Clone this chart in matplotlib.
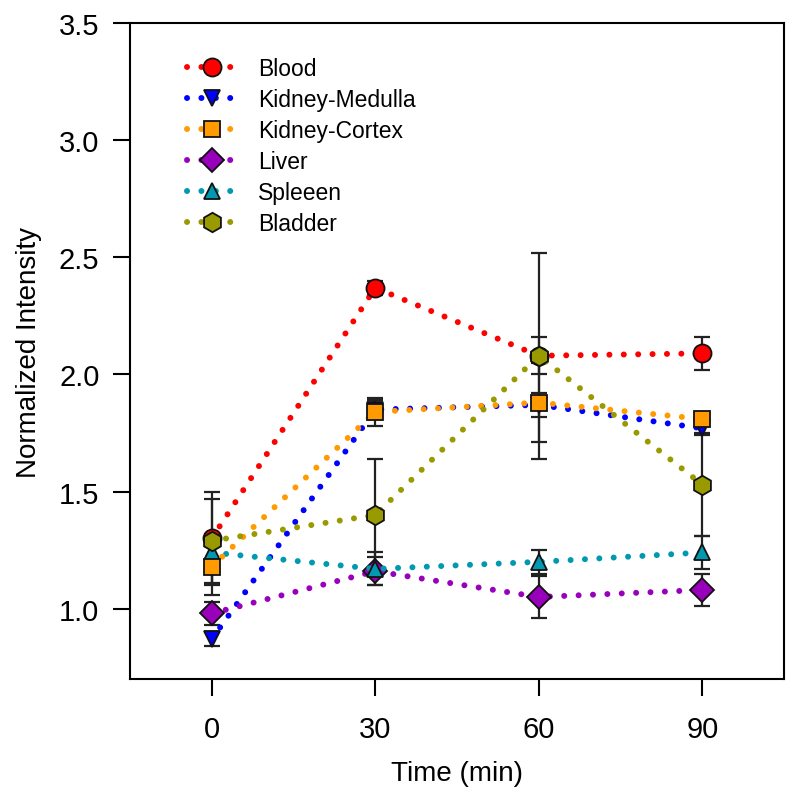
import matplotlib
matplotlib.use("Agg")
import matplotlib.pyplot as plt

plt.rcParams['font.family'] = ['Liberation Sans', 'DejaVu Sans']

time = [0, 30, 60, 90]
names = ["Blood", "Kidney-Medulla", "Kidney-Cortex", "Liver", "Spleeen", "Bladder"]

blood = [1.30, 2.37, 2.08, 2.09]
blood_err = [0.20, 0.03, 0.08, 0.07]
medulla = [0.87, 1.85, 1.87, 1.77]
medulla_err = [0.03, 0.04, 0.05, 0.03]
cortex = [1.18, 1.84, 1.88, 1.81]
cortex_err = [0.12, 0.06, 0.17, 0.03]
liver = [0.98, 1.16, 1.05, 1.08]
liver_err = [0.05, 0.06, 0.09, 0.07]
spleen = [1.24, 1.17, 1.20, 1.24]
spleen_err = [0.05, 0.07, 0.05, 0.07]
bladder = [1.29, 1.40, 2.08, 1.53]
bladder_err = [0.18, 0.24, 0.44, 0.22]

values = [blood, medulla, cortex, liver, spleen, bladder]
errors = [blood_err, medulla_err, cortex_err, liver_err, spleen_err, bladder_err]
colors = ["#ff0000", "#0000ff", "#ff9a00", "#9900bb", "#0099b0", "#999900"]
markers = ["o", "v", "s", "D", "^", "h"]
msizes = [13, 12, 12, 12, 12, 14]
zorders = [3, 3, 3.2, 3, 3.1, 3.3]

fig = plt.figure(figsize=(8, 8.03), dpi=100)
ax = fig.add_axes([0.1625, 0.1532, 0.8175, 0.8168])

for y, e in zip(values, errors):
    ax.errorbar(time, y, yerr=e, fmt="none", ecolor="#222222", elinewidth=1.6,
                capsize=6, capthick=1.6, zorder=2)

for y, c, m, ms, z, n in zip(values, colors, markers, msizes, zorders, names):
    ax.plot(time, y, linestyle=(0, (0.01, 2.4)), dash_capstyle="round", lw=4.3,
            color=c, marker=m, markersize=ms, markerfacecolor=c,
            markeredgecolor="#111111", markeredgewidth=1.3, label=n, zorder=z)

ax.set_xlim(-15, 105)
ax.set_ylim(0.7, 3.5)
ax.set_xticks(time)
ax.set_yticks([1.0, 1.5, 2.0, 2.5, 3.0, 3.5])
ax.set_yticklabels(["1.0", "1.5", "2.0", "2.5", "3.0", "3.5"])
ax.tick_params(direction="out", length=12, width=1.5, labelsize=21)
ax.tick_params(axis="x", pad=14)
ax.tick_params(axis="y", pad=10)
for s in ax.spines.values():
    s.set_linewidth(1.5)

ax.set_xlabel("Time (min)", fontsize=20, labelpad=12)
ax.set_ylabel("Normalized Intensity", fontsize=20, labelpad=12)

ax.legend(loc="upper left", bbox_to_anchor=(0.056, 0.98), frameon=False,
          fontsize=16.5, numpoints=1, handlelength=2.2, labelspacing=0.35,
          handletextpad=0.9)

fig.savefig("out.png", dpi=100)
